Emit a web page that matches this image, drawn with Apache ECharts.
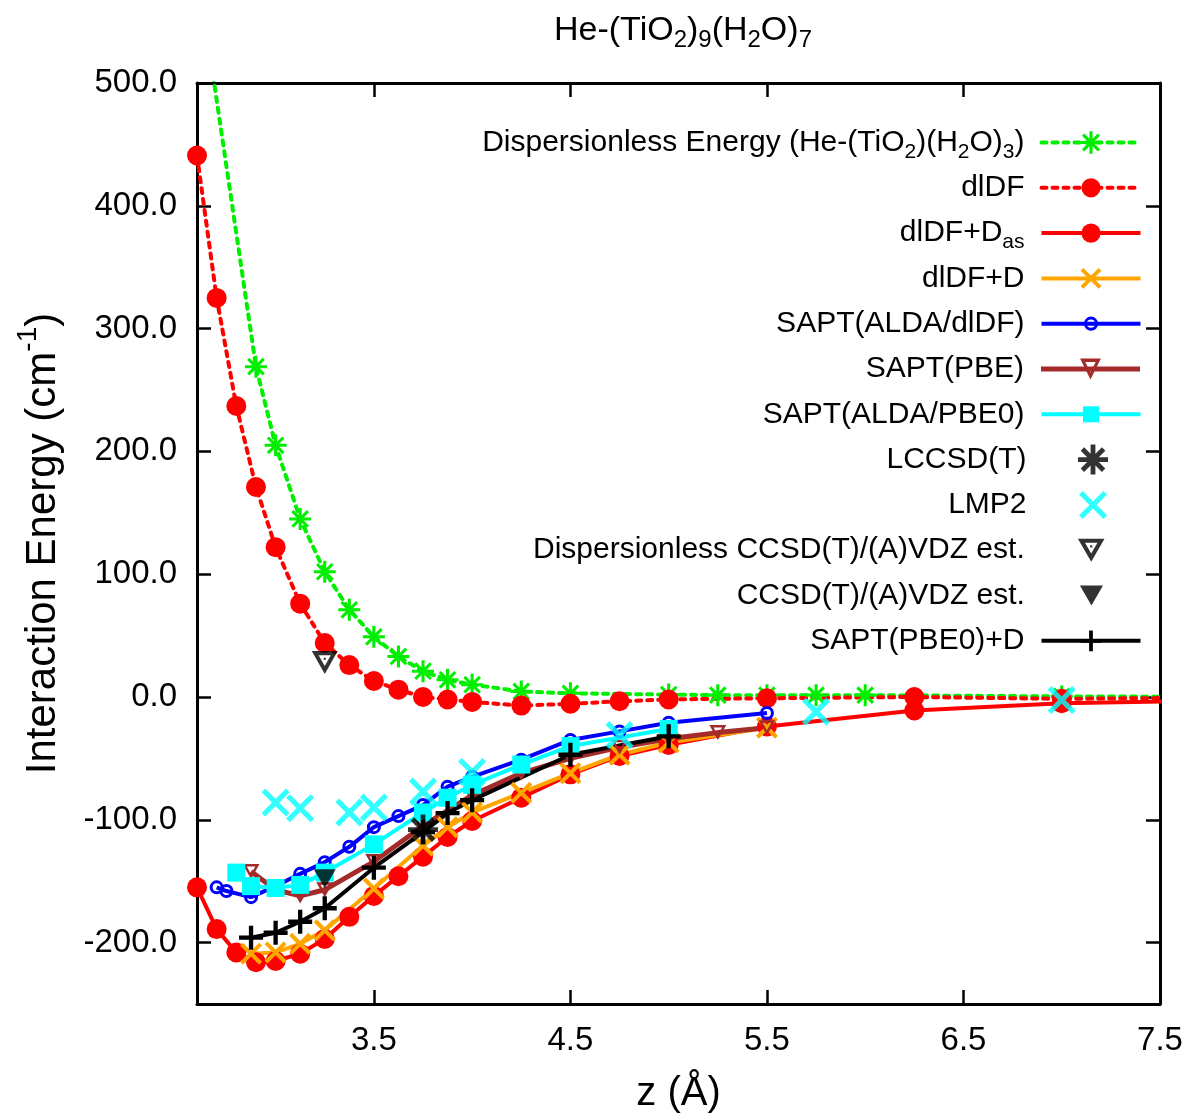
<!DOCTYPE html>
<html>
<head>
<meta charset="utf-8">
<script src="https://cdn.jsdelivr.net/npm/echarts@6/dist/echarts.min.js"></script>
<style>
  html, body { margin: 0; padding: 0; background: #fff; }
  #chart { width: 1186px; height: 1113px; }
</style>
</head>
<body>
<div id="chart"></div>
<script>
const FONT = '"Liberation Sans", Arial, sans-serif';

// values: z in Angstrom, energies in cm-1
const dispX = [2.6, 2.9, 3.0, 3.125, 3.25, 3.375, 3.5, 3.625, 3.75, 3.875, 4.0, 4.25, 4.5, 5.0, 5.25, 5.5, 5.75, 6.0, 7.0, 8.0];
const dispY = [595, 269, 205, 145, 102, 71, 49, 33, 21, 14, 10, 4.5, 3, 2, 1.5, 1.5, 1.5, 1.5, 0.5, 0];

const dldfX = [2.6, 2.7, 2.8, 2.9, 3.0, 3.125, 3.25, 3.375, 3.5, 3.625, 3.75, 3.875, 4.0, 4.25, 4.5, 4.75, 5.0, 5.5, 6.25, 7.0, 8.0];
const dldfY = [441, 325, 237, 171, 122, 76, 44, 26, 13, 6, 0, -2, -4, -7, -5.5, -3.5, -2, -1, 0, -1.5, -0.3];

const dldfDasX = [2.6, 2.7, 2.8, 2.9, 3.0, 3.125, 3.25, 3.375, 3.5, 3.625, 3.75, 3.875, 4.0, 4.25, 4.5, 4.75, 5.0, 5.5, 6.25, 7.0, 8.0];
const dldfDasY = [-155, -189, -208, -216, -215, -209, -197, -179, -162, -146, -130, -114, -101, -82, -63, -48, -39, -24, -11, -5, -2.5];

const dldfDX = [2.875, 3.0, 3.125, 3.25, 3.5, 3.75, 3.875, 4.0, 4.25, 4.5, 4.75, 5.0, 5.5];
const dldfDY = [-209, -208, -201, -190, -156, -121, -106, -94, -78, -62, -47, -37, -25];

const aldaDldfX = [2.7, 2.75, 2.875, 3.0, 3.125, 3.25, 3.375, 3.5, 3.625, 3.75, 3.875, 4.0, 4.25, 4.5, 4.75, 5.0, 5.5];
const aldaDldfY = [-155, -158, -163, -154, -144, -134.5, -122, -106, -97, -88, -73, -65, -51, -35, -28, -21, -13];

const sPbeX = [2.875, 3.0, 3.125, 3.25, 3.5, 3.75, 4.0, 4.25, 4.5, 4.75, 5.0, 5.25, 5.5];
const sPbeY = [-142, -157, -162, -157, -134, -105, -80, -62, -50, -41, -34, -29, -25];

const aldaPbe0X = [2.8, 2.875, 3.0, 3.125, 3.25, 3.5, 3.75, 3.875, 4.0, 4.25, 4.5, 5.0];
const aldaPbe0Y = [-143, -154, -155.5, -153, -143, -120, -94, -82, -71.5, -55, -40, -26];

const lccsdX = [3.75];
const lccsdY = [-108];

const lmp2X = [3.0, 3.125, 3.375, 3.5, 3.75, 4.0, 4.75, 5.75, 7.0];
const lmp2Y = [-86, -90.5, -94, -90, -77, -61, -31, -12, -2.5];

const dispCcsdX = [3.25];
const dispCcsdY = [28];

const ccsdX = [3.25];
const ccsdY = [-148];

const pbe0DX = [2.875, 3.0, 3.125, 3.25, 3.5, 3.75, 3.875, 4.0, 4.5, 5.0];
const pbe0DY = [-196, -192, -183, -172, -139, -110, -94.5, -84, -47, -32];

const xTicks = [3.5, 4.5, 5.5, 6.5, 7.5];
const yTicks = [-200, -100, 0, 100, 200, 300, 400, 500];

const names = [
  'Dispersionless Energy (He-(TiO2)(H2O)3)', 'dlDF', 'dlDF+Das', 'dlDF+D',
  'SAPT(ALDA/dlDF)', 'SAPT(PBE)', 'SAPT(ALDA/PBE0)', 'LCCSD(T)', 'LMP2',
  'Dispersionless CCSD(T)/(A)VDZ est.', 'CCSD(T)/(A)VDZ est.', 'SAPT(PBE0)+D'
];
const legendText = {
  'Dispersionless Energy (He-(TiO2)(H2O)3)': 'Dispersionless Energy (He-(TiO{s|2})(H{s|2}O){s|3})',
  'dlDF+Das': 'dlDF+D{s|as}'
};

const pairs = (xs, ys) => xs.map((x, i) => [x, ys[i]]);

// gnuplot-like point shapes built from filled bars
const bars = (angles, len, thick) => {
  let d = '';
  angles.forEach(a => {
    const r = a * Math.PI / 180;
    const dx = Math.cos(r), dy = Math.sin(r);
    const nx = -dy, ny = dx, h = thick / 2;
    const pts = [
      [len * dx + h * nx, len * dy + h * ny],
      [len * dx - h * nx, len * dy - h * ny],
      [-len * dx - h * nx, -len * dy - h * ny],
      [-len * dx + h * nx, -len * dy + h * ny]
    ];
    d += 'M' + pts.map(p => (p[0] + 50).toFixed(2) + ',' + (p[1] + 50).toFixed(2)).join('L') + 'Z';
  });
  return 'path://' + d;
};

// open down-pointing triangle (optionally with a dot in the middle)
const triRing = (k, dot) => {
  const v = [[0, 0], [100, 0], [50, 86.6]];
  const c = [50, 28.87];
  const iv = v.map(p => [c[0] + k * (p[0] - c[0]), c[1] + k * (p[1] - c[1])]);
  const f = p => p[0].toFixed(2) + ',' + p[1].toFixed(2);
  let d = 'M' + f(v[0]) + 'L' + f(v[1]) + 'L' + f(v[2]) + 'Z';
  d += 'M' + f(iv[0]) + 'L' + f(iv[2]) + 'L' + f(iv[1]) + 'Z';
  if (dot) {
    d += 'M' + f([c[0] - dot, c[1] - dot]) + 'L' + f([c[0] + dot, c[1] - dot]) +
         'L' + f([c[0] + dot, c[1] + dot]) + 'L' + f([c[0] - dot, c[1] + dot]) + 'Z';
  }
  return 'path://' + d;
};

const STAR = bars([0, 45, 90, 135], 50, 14);
const STAR_BIG = bars([0, 45, 90, 135], 50, 16);
const CROSS = bars([45, 135], 50, 15);
const PLUS = bars([0, 90], 50, 18);
const TRI_OPEN = triRing(0.5, 0);
const TRI_DOT = triRing(0.47, 4);
const TRI_FULL = 'path://M0,0L100,0L50,86.6Z';

const series = [
  { type: 'line', name: names[0], data: pairs(dispX, dispY), symbol: STAR, symbolSize: 22,
    itemStyle: { color: '#00ee00' }, lineStyle: { color: '#00ee00', width: 4, type: [5, 6], cap: 'round' } },
  { type: 'line', name: names[1], data: pairs(dldfX, dldfY), symbol: 'circle', symbolSize: 20,
    itemStyle: { color: '#ff0000' }, lineStyle: { color: '#ff0000', width: 4, type: [5, 6], cap: 'round' } },
  { type: 'line', name: names[2], data: pairs(dldfDasX, dldfDasY), symbol: 'circle', symbolSize: 20,
    itemStyle: { color: '#ff0000' }, lineStyle: { color: '#ff0000', width: 4 } },
  { type: 'line', name: names[3], data: pairs(dldfDX, dldfDY), symbol: CROSS, symbolSize: 22,
    itemStyle: { color: '#ffa500' }, lineStyle: { color: '#ffa500', width: 4 } },
  { type: 'line', name: names[4], data: pairs(aldaDldfX, aldaDldfY), symbol: 'circle', symbolSize: 11,
    itemStyle: { color: 'rgba(0,0,0,0)', borderColor: '#0000ff', borderWidth: 3 },
    lineStyle: { color: '#0000ff', width: 4 } },
  { type: 'line', name: names[5], data: pairs(sPbeX, sPbeY), symbol: TRI_OPEN, symbolSize: [17, 15],
    itemStyle: { color: '#a52a2a' }, lineStyle: { color: '#a52a2a', width: 5 } },
  { type: 'line', name: names[6], data: pairs(aldaPbe0X, aldaPbe0Y), symbol: 'rect', symbolSize: 18,
    itemStyle: { color: '#00ffff' }, lineStyle: { color: '#00ffff', width: 4 } },
  { type: 'scatter', name: names[7], data: pairs(lccsdX, lccsdY), symbol: STAR_BIG, symbolSize: 30,
    itemStyle: { color: '#000' } },
  { type: 'scatter', name: names[8], data: pairs(lmp2X, lmp2Y), symbol: CROSS, symbolSize: 28,
    itemStyle: { color: '#00ffff' } },
  { type: 'scatter', name: names[9], data: pairs(dispCcsdX, dispCcsdY), symbol: TRI_DOT, symbolSize: [26, 23],
    itemStyle: { color: '#000' } },
  { type: 'scatter', name: names[10], data: pairs(ccsdX, ccsdY), symbol: TRI_FULL, symbolSize: [22, 19],
    itemStyle: { color: '#000' } },
  { type: 'line', name: names[11], data: pairs(pbe0DX, pbe0DY), symbol: PLUS, symbolSize: 24,
    itemStyle: { color: '#000' }, lineStyle: { color: '#000', width: 4 } }
];
series.forEach(s => { s.z = 2; s.clip = true; s.silent = true; });

// one legend per row so the keys line up on the right like gnuplot's key
const iconHeights = [28, 24, 24, 26, 14, 26, 20, 30, 28, 23, 20, 26];
const KEY_CENTER = 1093;   // x of the key symbols
const legends = names.map((n, i) => {
  const h = iconHeights[i];
  // a line key spans the whole 99px sample, a point-only key just its symbol
  const rightEdge = series[i].type === 'line' ? KEY_CENTER + 49.5 : KEY_CENTER + h / 2;
  return {
    data: [n],
    right: 1186 - rightEdge,
    top: 142.5 + i * 45.3 - 20,
    align: 'right',
    orient: 'horizontal',
    padding: 0,
    itemWidth: 99,
    itemHeight: h,
    selectedMode: false,
    lineStyle: { width: i === 5 ? 5 : 4 },
    itemStyle: i === 4 ? { borderWidth: 3 } : {},
    formatter: name => legendText[name] || name,
    textStyle: {
      fontFamily: FONT, fontSize: 30, color: '#000', lineHeight: 40,
      padding: [0, 12, 0, 0],
      rich: { s: { fontFamily: FONT, fontSize: 21, verticalAlign: 'bottom', lineHeight: 24 } }
    }
  };
});

const axisLine = { show: true, onZero: false, lineStyle: { color: '#000', width: 3 } };

const option = {
  animation: false,
  backgroundColor: '#fff',
  title: {
    text: 'He-(TiO{s|2}){s|9}(H{s|2}O){s|7}',
    left: 678,
    top: 5,
    textAlign: 'center',
    textStyle: {
      fontFamily: FONT, fontSize: 34, fontWeight: 'normal', color: '#000', lineHeight: 42,
      rich: { s: { fontFamily: FONT, fontSize: 24, verticalAlign: 'bottom', lineHeight: 26 } }
    }
  },
  legend: legends,
  grid: { left: 197, right: 26, top: 83, bottom: 109, containLabel: false, outerBoundsMode: 'none' },
  xAxis: [
    {
      type: 'value', position: 'bottom', min: 2.6, max: 7.5,
      axisLine,
      axisTick: { inside: true, length: 14, lineStyle: { color: '#000', width: 2.5 }, customValues: xTicks },
      axisLabel: { customValues: xTicks, margin: 20, fontFamily: FONT, fontSize: 33, color: '#000',
        formatter: v => v.toFixed(1) },
      splitLine: { show: false },
      name: 'z (Å)', nameLocation: 'middle', nameGap: 70,
      nameTextStyle: { fontFamily: FONT, fontSize: 40, color: '#000' }
    },
    {
      type: 'value', position: 'top', min: 2.6, max: 7.5,
      axisLine,
      axisTick: { inside: true, length: 14, lineStyle: { color: '#000', width: 2.5 }, customValues: xTicks },
      axisLabel: { show: false },
      splitLine: { show: false }
    }
  ],
  yAxis: [
    {
      type: 'value', position: 'left', min: -250, max: 500,
      axisLine,
      axisTick: { inside: true, length: 14, lineStyle: { color: '#000', width: 2.5 }, customValues: yTicks },
      axisLabel: { customValues: yTicks, margin: 20, fontFamily: FONT, fontSize: 33, color: '#000',
        formatter: v => v.toFixed(1) },
      splitLine: { show: false },
      name: 'Interaction Energy (cm{sup|-1})', nameLocation: 'middle', nameGap: 121,
      nameTextStyle: {
        fontFamily: FONT, fontSize: 42, color: '#000', lineHeight: 58,
        rich: { sup: { fontFamily: FONT, fontSize: 28, verticalAlign: 'top', lineHeight: 32 } }
      }
    },
    {
      type: 'value', position: 'right', min: -250, max: 500,
      axisLine,
      axisTick: { inside: true, length: 14, lineStyle: { color: '#000', width: 2.5 }, customValues: yTicks },
      axisLabel: { show: false },
      splitLine: { show: false }
    }
  ],
  series
};

const chart = echarts.init(document.getElementById('chart'));
chart.setOption(option);
</script>
</body>
</html>
